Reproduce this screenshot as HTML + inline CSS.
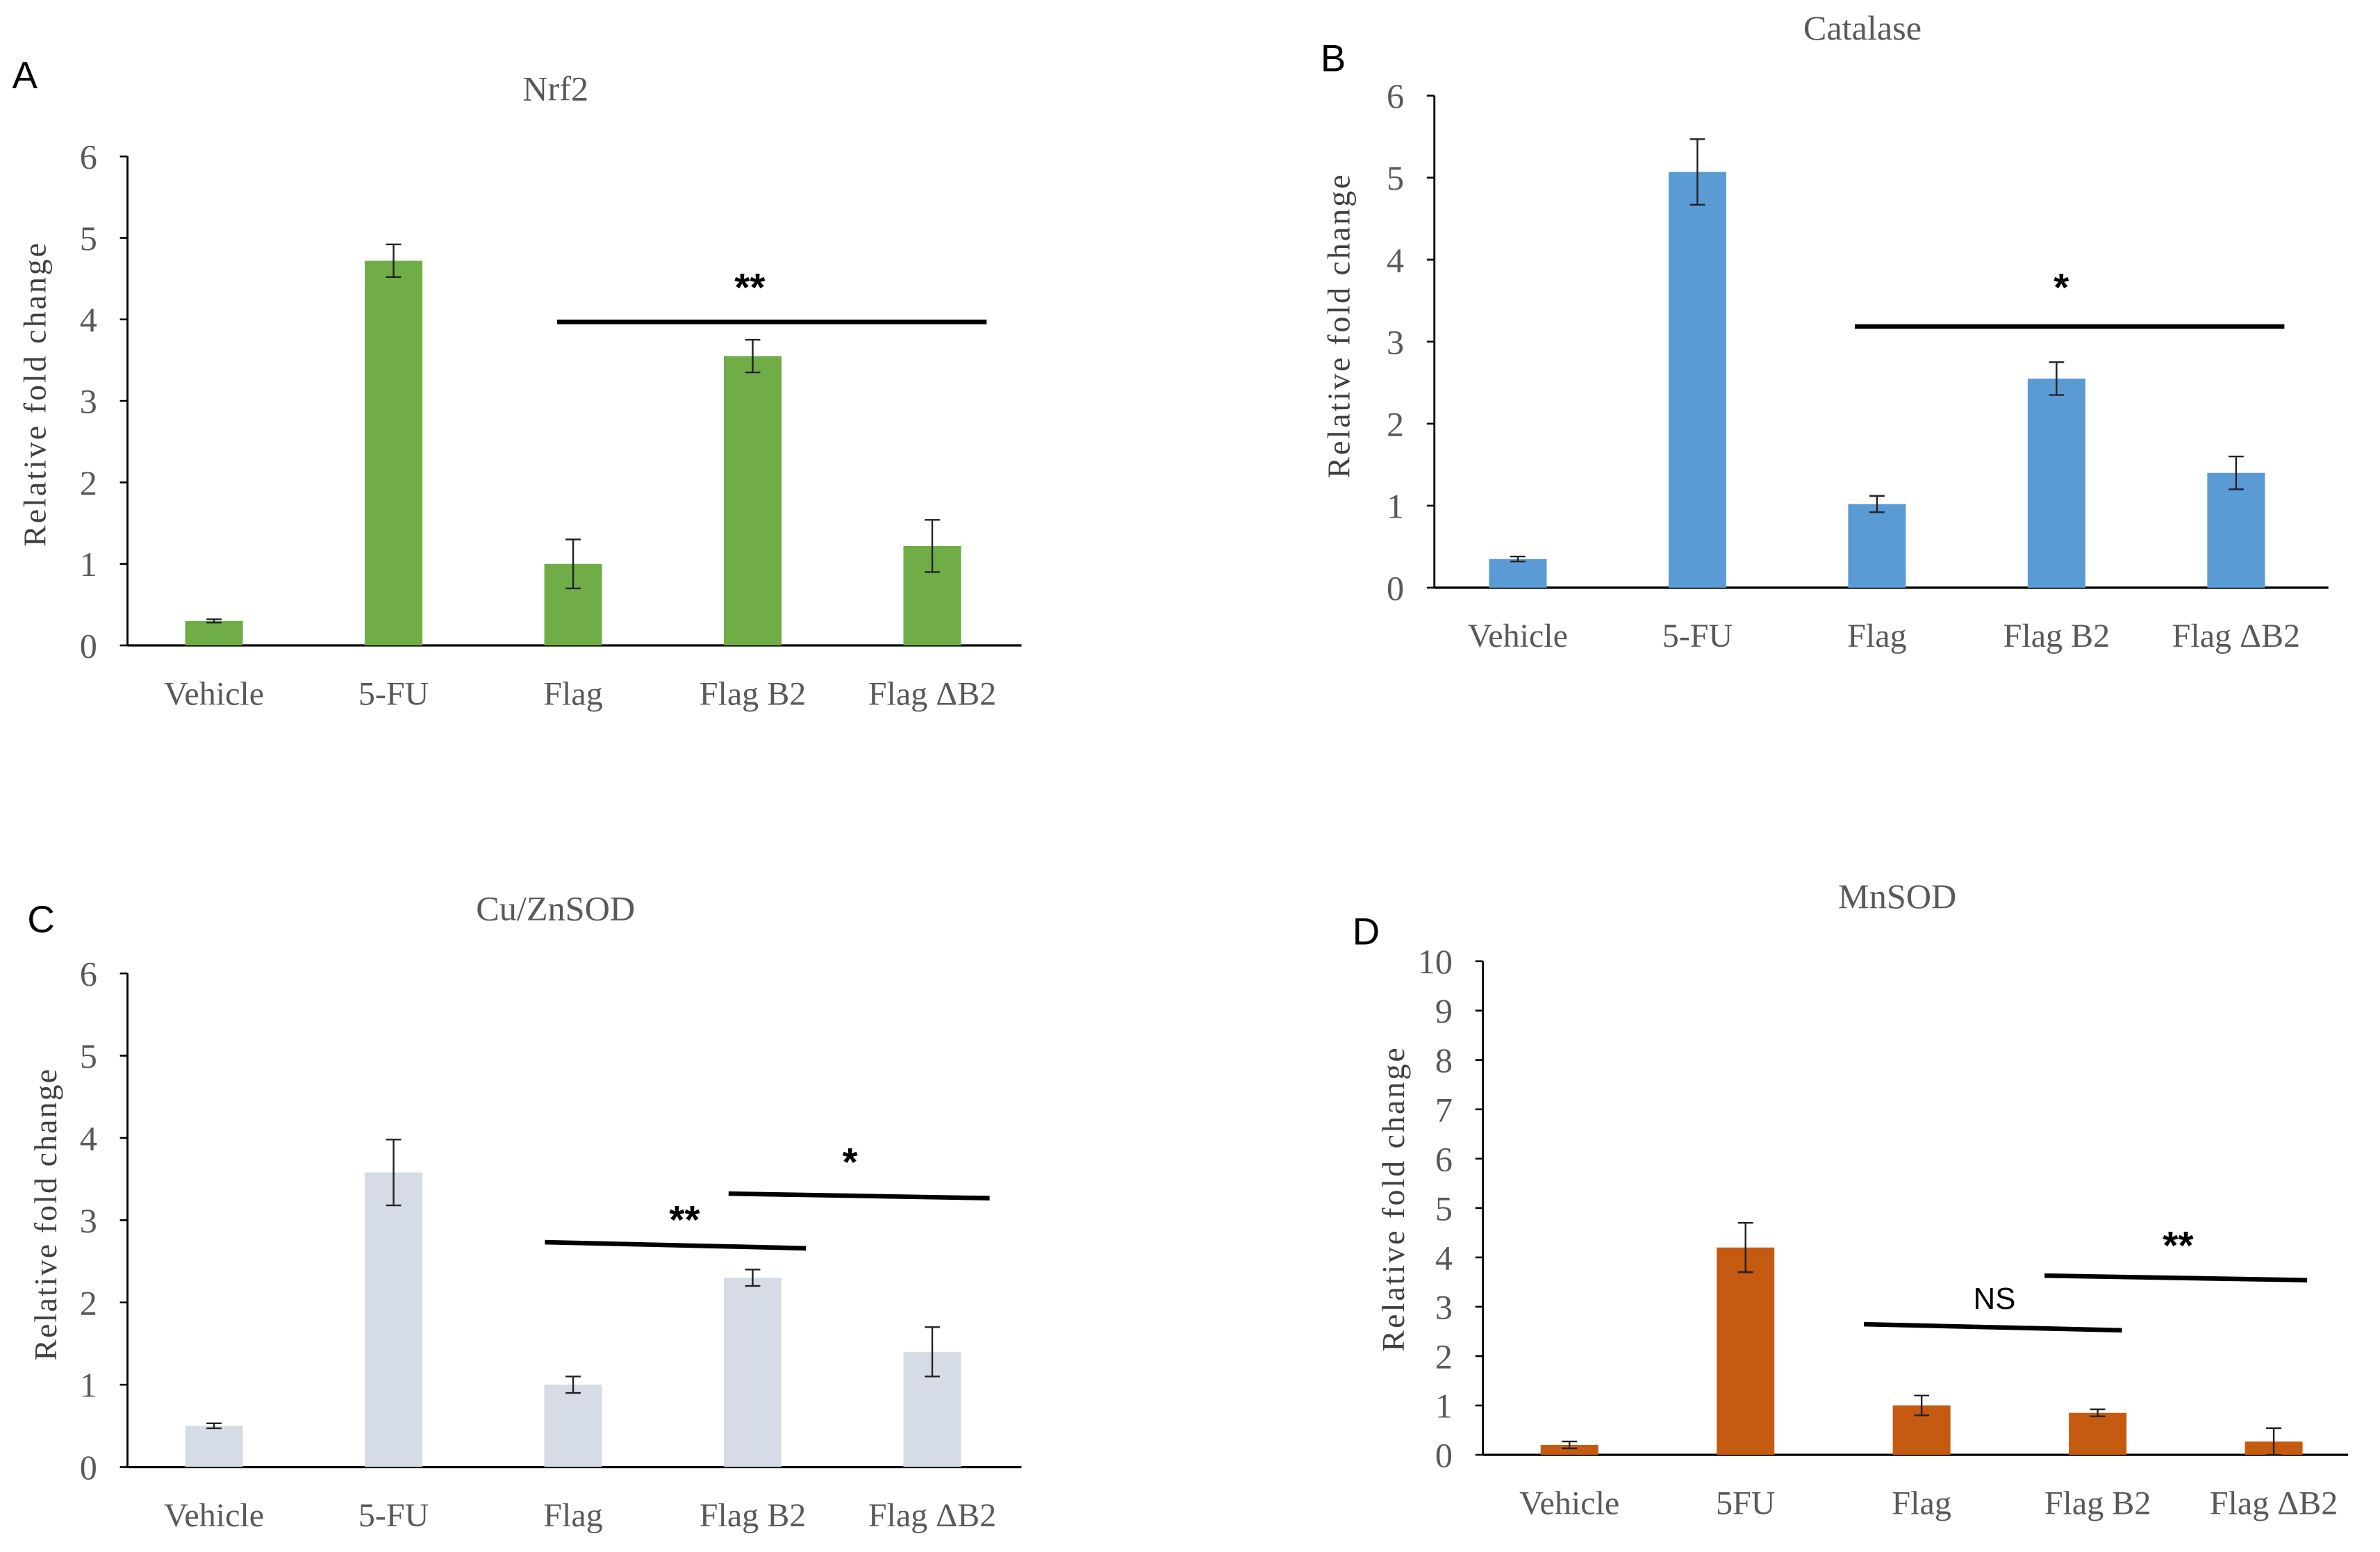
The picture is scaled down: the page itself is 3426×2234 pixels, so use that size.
<!DOCTYPE html>
<html><head><meta charset="utf-8">
<style>
html,body{margin:0;padding:0;background:#fff;}
svg{display:block;}
</style></head>
<body>
<svg id="fig" width="3426" height="2234" viewBox="0 0 1568 1022" preserveAspectRatio="none" xmlns="http://www.w3.org/2000/svg"></svg>
<script>
const categoriesA = ["Vehicle","5-FU","Flag","Flag B2","Flag \u0394B2"];
const valuesA = [0.3, 4.72, 1.0, 3.55, 1.22];
const errorsA = [0.02, 0.2, 0.3, 0.2, 0.32];
const ticksA = [0,1,2,3,4,5,6];

const categoriesB = ["Vehicle","5-FU","Flag","Flag B2","Flag \u0394B2"];
const valuesB = [0.35, 5.07, 1.02, 2.55, 1.4];
const errorsB = [0.03, 0.4, 0.1, 0.2, 0.2];
const ticksB = [0,1,2,3,4,5,6];

const categoriesC = ["Vehicle","5-FU","Flag","Flag B2","Flag \u0394B2"];
const valuesC = [0.5, 3.58, 1.0, 2.3, 1.4];
const errorsC = [0.03, 0.4, 0.1, 0.1, 0.3];
const ticksC = [0,1,2,3,4,5,6];

const categoriesD = ["Vehicle","5FU","Flag","Flag B2","Flag \u0394B2"];
const valuesD = [0.2, 4.2, 1.0, 0.85, 0.27];
const errorsD = [0.07, 0.5, 0.2, 0.07, 0.27];
const ticksD = [0,1,2,3,4,5,6,7,8,9,10];

const NS = "http://www.w3.org/2000/svg";
const svg = document.getElementById('fig');
function mk(tag, attrs, parent){
  const e = document.createElementNS(NS, tag);
  for (const k in attrs) e.setAttribute(k, attrs[k]);
  (parent||svg).appendChild(e);
  return e;
}
const SERIF = '"Liberation Serif", serif';
const SANS = '"Liberation Sans", sans-serif';

function panel(cfg){
  const g = mk('g', {});
  
  
  const y = v => cfg.y0 - (v - cfg.vmin) / (cfg.vmax - cfg.vmin) * (cfg.y0 - cfg.ytop);
  const x = i => cfg.x0 + cfg.firstOff + i * cfg.step;
  const L = mk('text', {x: cfg.letter[0], y: cfg.letter[1], 'font-family': SANS, 'font-size': 25, fill: '#000'}, g);
  L.textContent = cfg.id.toUpperCase();
  
  
  const T = mk('text', {x: cfg.title[0], y: cfg.title[1], 'font-family': SERIF, 'font-size': 23, fill: '#595959', 'text-anchor': 'middle'}, g);
  T.textContent = cfg.titleText;
  
  
  const Y = mk('text', {x: 0, y: 0, 'font-family': SERIF, 'font-size': 21, fill: '#404040', 'text-anchor': 'middle', textLength: cfg.ylabLen, lengthAdjust: 'spacing', transform: `translate(${cfg.ylab[0]},${cfg.ylab[1]}) rotate(-90)`}, g);
  Y.textContent = cfg.ylabText;
  
  
  const ay = mk('line', {x1: cfg.x0, x2: cfg.x0, y1: y(cfg.ticks[cfg.ticks.length-1]), y2: cfg.y0, stroke: '#000', 'stroke-width': 1.3}, g);
  
  
  const ax = mk('line', {x1: cfg.x0, x2: cfg.xend, y1: cfg.y0, y2: cfg.y0, stroke: '#000', 'stroke-width': 1.5}, g);
  
  
  cfg.ticks.forEach(t => {
    const tk = mk('line', {x1: cfg.x0 - 5, x2: cfg.x0, y1: y(t), y2: y(t), stroke: '#000', 'stroke-width': 1.2}, g);
    
    
    const tl = mk('text', {x: cfg.x0 - 20, y: y(t) + 8, 'font-family': SERIF, 'font-size': 23, fill: '#595959', 'text-anchor': 'end'}, g);
    tl.textContent = t;
    
    
  });
  cfg.cats.forEach((c, i) => {
    const bw = 38;
    const b = mk('rect', {x: x(i) - bw/2, y: y(cfg.vals[i]), width: bw, height: cfg.y0 - y(cfg.vals[i]), fill: cfg.color}, g);
    
    
    const e = cfg.errs[i];
    const eg = mk('path', {d: `M${x(i)},${y(cfg.vals[i]+e)}V${y(cfg.vals[i]-e)}M${x(i)-5},${y(cfg.vals[i]+e)}H${x(i)+5}M${x(i)-5},${y(cfg.vals[i]-e)}H${x(i)+5}`, stroke: '#222', 'stroke-width': 1.1, fill: 'none'}, g);
    
    
    const cl = mk('text', {x: x(i), y: cfg.y0 + 39, 'font-family': SERIF, 'font-size': 22, fill: '#595959', 'text-anchor': 'middle'}, g);
    cl.textContent = c;
    
    
  });
  cfg.sig.forEach(s => {
    const ln = mk('line', {x1: s.x1, y1: s.y1, x2: s.x2, y2: s.y2, stroke: '#000', 'stroke-width': 3}, g);
    
    
    const st = mk('text', {x: s.tx, y: s.ty, 'font-family': SANS, 'font-size': s.label === 'NS' ? 20 : 26, 'font-weight': s.label === 'NS' ? 'normal' : 'bold', fill: '#000', 'text-anchor': 'middle'}, g);
    st.textContent = s.label;
    
    
  });
}

panel({id:'a', x0:84, xend:673, y0:425, ytop:103, vmin:0, vmax:6, firstOff:57, step:118.3,
  cats:categoriesA, vals:valuesA, errs:errorsA, ticks:ticksA, color:'#70ad47',
  letter:[8,58], title:[366,66], titleText:'Nrf2', ylab:[30,260], ylabLen:200, ylabText:'Relative  fold change',
  sig:[{x1:367,y1:212,x2:650,y2:212,tx:494,ty:198,label:'**'}]});

panel({id:'b', x0:945, xend:1534, y0:387, ytop:63, vmin:0, vmax:6, firstOff:55, step:118.3,
  cats:categoriesB, vals:valuesB, errs:errorsB, ticks:ticksB, color:'#5b9bd5',
  letter:[870,47], title:[1227,26], titleText:'Catalase', ylab:[889,215], ylabLen:200, ylabText:'Relative  fold change',
  sig:[{x1:1222,y1:215,x2:1505,y2:215,tx:1358,ty:198,label:'*'}]});

panel({id:'c', x0:84, xend:673, y0:966, ytop:641, vmin:0, vmax:6, firstOff:57, step:118.3,
  cats:categoriesC, vals:valuesC, errs:errorsC, ticks:ticksC, color:'#d6dce5',
  letter:[18,614], title:[366,606], titleText:'Cu/ZnSOD', ylab:[37,800], ylabLen:192, ylabText:'Relative fold change',
  sig:[{x1:359,y1:818,x2:531,y2:822,tx:451,ty:812,label:'**'},
       {x1:480,y1:786,x2:652,y2:789,tx:560,ty:774,label:'*'}]});

panel({id:'d', x0:977, xend:1547, y0:958, ytop:633, vmin:0, vmax:10, firstOff:57, step:116,
  cats:categoriesD, vals:valuesD, errs:errorsD, ticks:ticksD, color:'#c55a11',
  letter:[891,622], title:[1250,598], titleText:'MnSOD', ylab:[925,790], ylabLen:200, ylabText:'Relative  fold change',
  sig:[{x1:1228,y1:872,x2:1398,y2:876,tx:1314,ty:862,label:'NS'},
       {x1:1347,y1:840,x2:1520,y2:843,tx:1435,ty:829,label:'**'}]});
</script>
</body></html>
